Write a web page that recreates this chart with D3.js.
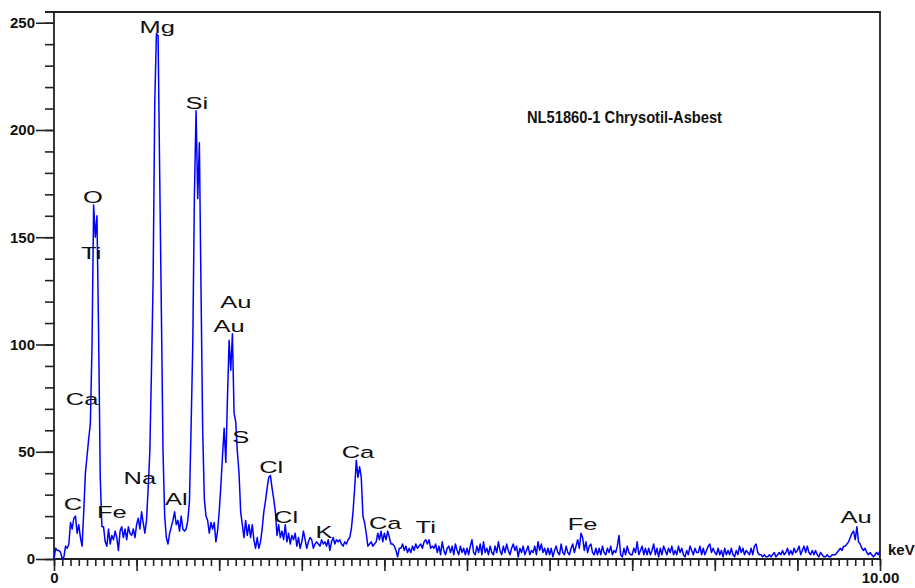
<!DOCTYPE html>
<html>
<head>
<meta charset="utf-8">
<script src="https://cdn.jsdelivr.net/npm/d3@7"></script>
<style>
  body { margin: 0; background: #fff; }
  .axis text { font-family: "Liberation Sans", Arial, sans-serif; font-weight: bold; font-size: 15px; fill: #111; }
  .axis line { stroke: #222; stroke-width: 1.6px; }
</style>
</head>
<body>
<svg id="chart" width="915" height="588"></svg>
<script>
// spectrum: counts per 0.02 keV channel, 0 .. 10 keV
var keVStep = 0.02;
var counts = [
  0, 5, 4, 4, 3, 0, 1, 6, 5, 7,
  17, 14, 19, 20, 12, 16, 10, 6, 22, 40,
  48, 56, 63, 99, 165, 150, 160, 105, 38, 15,
  15, 8, 6, 14, 7, 11, 9, 13, 10, 4,
  13, 15, 10, 14, 9, 15, 12, 11, 14, 10,
  16, 19, 14, 22, 17, 12, 18, 33, 50, 88,
  130, 213, 245, 244, 178, 115, 50, 20, 10, 7,
  12, 15, 18, 22, 16, 18, 13, 20, 14, 13,
  14, 18, 27, 62, 100, 170, 209, 168, 194, 125,
  60, 28, 20, 18, 12, 17, 14, 17, 8, 13,
  22, 34, 48, 61, 45, 75, 102, 88, 105, 68,
  64, 50, 40, 22, 16, 10, 18, 11, 16, 10,
  16, 9, 5, 10, 5, 8, 14, 22, 27, 33,
  38, 39, 33, 28, 22, 11, 16, 10, 13, 9,
  16, 8, 12, 7, 11, 9, 12, 6, 10, 5,
  8, 13, 9, 5, 8, 10, 9, 5, 7, 8,
  7, 6, 9, 7, 8, 6, 9, 4, 8, 10,
  7, 9, 8, 9, 7, 6, 8, 7, 9, 10,
  14, 22, 33, 46, 38, 43, 38, 20, 17, 12,
  6, 7, 8, 6, 7, 8, 12, 9, 13, 8,
  12, 9, 13, 10, 7, 7, 6, 4, 1, 5,
  5, 7, 4, 6, 3, 5, 3, 6, 4, 7,
  5, 6, 7, 5, 8, 9, 7, 9, 5, 6,
  5, 7, 3, 6, 2, 8, 4, 2, 5, 6,
  3, 6, 2, 7, 4, 2, 6, 3, 5, 2,
  5, 2, 6, 9, 3, 2, 6, 3, 7, 2,
  8, 3, 5, 2, 6, 3, 2, 6, 3, 8,
  4, 2, 6, 3, 7, 4, 2, 5, 7, 4,
  6, 1, 5, 3, 6, 2, 4, 6, 2, 4,
  3, 6, 2, 8, 4, 7, 3, 5, 2, 5,
  2, 5, 1, 4, 6, 3, 2, 7, 3, 2,
  6, 3, 2, 5, 7, 3, 6, 9, 5, 12,
  10, 4, 8, 3, 6, 7, 3, 2, 5, 2,
  5, 2, 6, 3, 2, 5, 3, 6, 2, 4,
  3, 6, 11, 2, 1, 5, 2, 6, 3, 2,
  2, 5, 3, 8, 2, 4, 6, 2, 5, 2,
  5, 2, 4, 7, 2, 5, 1, 5, 2, 6,
  4, 2, 5, 3, 6, 2, 4, 2, 6, 3,
  5, 2, 1, 4, 2, 6, 4, 2, 5, 3,
  3, 6, 2, 5, 2, 4, 6, 7, 3, 5,
  3, 2, 5, 2, 4, 1, 5, 2, 4, 2,
  5, 2, 1, 4, 2, 6, 3, 5, 2, 4,
  3, 2, 5, 2, 6, 7, 3, 2, 2, 1,
  2, 1, 1, 2, 1, 2, 3, 1, 2, 3,
  2, 4, 2, 3, 5, 2, 4, 2, 5, 3,
  4, 6, 2, 4, 6, 3, 6, 3, 2, 4,
  2, 4, 2, 1, 3, 2, 1, 1, 2, 1,
  1, 2, 2, 2, 3, 4, 5, 4, 6, 6,
  7, 8, 10, 12, 13, 9, 15, 8, 7, 5,
  4, 5, 3, 2, 3, 2, 1, 2, 3, 2,
  4
];

// element labels, anchored in data space (keV, counts)
var labelNames  = ["Mg", "Si", "O", "Ti", "Au", "Au", "Ca", "S", "Na", "Cl", "C", "Fe", "Al", "Cl", "K", "Ca", "Ca", "Ti", "Fe", "Au"];
var labelKeV    = [1.25, 1.73, 0.47, 0.45, 2.20, 2.12, 0.34, 2.26, 1.04, 2.63, 0.23, 0.70, 1.48, 2.81, 3.27, 3.68, 4.01, 4.50, 6.40, 9.71];
var labelCounts = [245, 210, 166, 140, 117, 106, 72, 54, 35, 40, 23, 19, 25, 17, 10, 47, 14, 12, 13.5, 17];

var yMajor = [0, 50, 100, 150, 200, 250];
var xLabels = {0: "0", 10: "10.00"};
var title = "NL51860-1 Chrysotil-Asbest";
var unit = "keV";

var svg = d3.select("#chart");
var plotLeft = 54, plotRight = 880, plotTop = 12, plotBottom = 559;

var x = d3.scaleLinear().domain([0, 10]).range([plotLeft, plotRight]);
var y = d3.scaleLinear().domain([0, 255]).range([plotBottom, plotTop]);

// y axis: minor + major ticks
svg.append("g").attr("class", "axis")
  .attr("transform", "translate(" + plotLeft + ",0)")
  .call(d3.axisLeft(y).tickValues(d3.range(0, 251, 10)).tickSize(9).tickFormat(""))
  .call(function(g) { g.select(".domain").remove(); });
svg.append("g").attr("class", "axis")
  .attr("transform", "translate(" + plotLeft + ",0)")
  .call(d3.axisLeft(y).tickValues(yMajor).tickSize(18).tickPadding(1))
  .call(function(g) { g.select(".domain").remove(); });

// x axis: minor every 0.1, major every 1 keV
svg.append("g").attr("class", "axis")
  .attr("transform", "translate(0," + plotBottom + ")")
  .call(d3.axisBottom(x).tickValues(d3.range(0, 100.5, 1).map(function(d) { return d / 10; })).tickSize(7).tickFormat(""))
  .call(function(g) { g.select(".domain").remove(); });
svg.append("g").attr("class", "axis")
  .attr("transform", "translate(0," + plotBottom + ")")
  .call(d3.axisBottom(x).tickValues(d3.range(0, 11, 1)).tickSize(12).tickPadding(1)
    .tickFormat(function(d) { return xLabels[d] || ""; }))
  .call(function(g) { g.select(".domain").remove(); });

// frame
svg.append("path")
  .attr("d", "M" + (plotLeft - 9) + "," + plotTop + "H" + plotRight + "V" + plotBottom + "H" + plotLeft + "V" + plotTop)
  .attr("fill", "none")
  .attr("stroke", "#222")
  .attr("stroke-width", 1.8);

svg.append("text")
  .attr("x", 888).attr("y", 555)
  .style("font-family", "Liberation Sans, Arial, sans-serif")
  .style("font-weight", "bold").style("font-size", "15px").style("fill", "#111")
  .text(unit);

// spectrum
var line = d3.line()
  .x(function(d, i) { return x(i * keVStep); })
  .y(function(d) { return y(d); });

svg.append("path")
  .datum(counts)
  .attr("d", line)
  .attr("fill", "none")
  .attr("stroke", "#0000ff")
  .attr("stroke-width", 1.5)
  .attr("stroke-linejoin", "round");

// element labels (wide lettering)
svg.append("g").selectAll("text")
  .data(labelNames)
  .enter().append("text")
  .attr("transform", function(d, i) {
    return "translate(" + x(labelKeV[i]) + "," + y(labelCounts[i]) + ") scale(1.5,1)";
  })
  .attr("text-anchor", "middle")
  .style("font-family", "Liberation Sans, Arial, sans-serif")
  .style("font-size", "17px")
  .style("fill", "#111")
  .text(function(d) { return d; });

svg.append("text")
  .attr("x", 527).attr("y", 123)
  .attr("textLength", 195).attr("lengthAdjust", "spacingAndGlyphs")
  .style("font-family", "Liberation Sans Narrow, Arial Narrow, Liberation Sans, sans-serif")
  .style("font-weight", "bold").style("font-size", "16px").style("fill", "#111")
  .text(title);
</script>
</body>
</html>
